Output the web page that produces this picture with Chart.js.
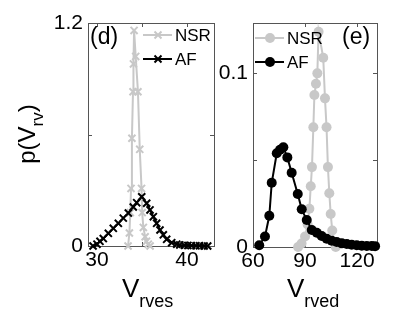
<!DOCTYPE html>
<html>
<head>
<meta charset="utf-8">
<script src="https://cdn.jsdelivr.net/npm/chart.js@4/dist/chart.umd.min.js"></script>
<style>
  body { margin: 0; background: #fff; }
  #wrap { position: relative; width: 415px; height: 313px; overflow: hidden; }
  canvas { position: absolute; left: 0; top: 0; }
</style>
</head>
<body>
<div id="wrap">
  <canvas id="ves" width="415" height="313"></canvas>
  <canvas id="ved" width="415" height="313"></canvas>
</div>
<script>
// panel (d): end-systolic volume
const nsrVesX = [33.45, 33.6, 33.7, 33.78, 33.88, 34.0, 34.05, 34.12, 34.3, 34.55, 34.75, 34.95, 35.02, 35.15, 35.35, 35.5, 35.7, 35.9]
const nsrVesP = [0.0, 0.07, 0.18, 0.31, 0.58, 0.83, 0.98, 1.16, 1.02, 0.83, 0.52, 0.31, 0.18, 0.1, 0.05, 0.025, 0.01, 0.0]
const afVesX = [29.56, 30.0, 30.33, 30.7, 31.26, 31.81, 32.37, 32.92, 33.48, 34.03, 34.41, 34.97, 35.52, 35.89, 36.26, 36.63, 37.0, 37.37, 37.74, 38.3, 38.86, 39.2, 39.7, 40.1, 40.5, 41.0, 41.4, 41.9, 42.3]
const afVesP = [0.0, 0.01, 0.025, 0.04, 0.068, 0.095, 0.122, 0.15, 0.177, 0.21, 0.233, 0.265, 0.23, 0.194, 0.158, 0.122, 0.086, 0.06, 0.036, 0.018, 0.01, 0.006, 0.004, 0.003, 0.002, 0.001, 0.001, 0.0, 0.0]

// panel (e): end-diastolic volume
const nsrVedX = [86, 88, 90, 91.5, 92.5, 93.3, 94, 94.8, 95.4, 96.3, 97.1, 97.8, 100.5, 101.5, 102.4, 103.2, 104, 104.8, 105.7, 106.8, 107.7]
const nsrVedP = [0.0, 0.002, 0.006, 0.013, 0.022, 0.035, 0.046, 0.069, 0.0875, 0.094, 0.1, 0.124, 0.109, 0.0856, 0.069, 0.046, 0.031, 0.019, 0.0095, 0.003, 0.0]
const afVedX = [63.6, 66.9, 69.4, 70.8, 73.7, 75.6, 77.5, 79.8, 82.3, 85.8, 88.1, 91.0, 93.9, 96.8, 99.6, 102.5, 105.4, 108.3, 111.2, 114.1, 116.9, 119.8, 122.7, 125.6, 128.5, 130.4]
const afVedP = [0.001, 0.006, 0.018, 0.037, 0.054, 0.056, 0.0574, 0.0516, 0.0428, 0.0305, 0.0217, 0.0155, 0.0098, 0.0082, 0.0063, 0.0048, 0.0036, 0.0029, 0.0021, 0.0017, 0.0013, 0.001, 0.0007, 0.0006, 0.0006, 0.0005]

const vesTicks = [30, 35, 40]
const vesTickLabels = ['30', '', '40']
const vesPTicks = [0, 0.6, 1.2]
const vesPTickLabels = ['0', '', '1.2']
const vedTicks = [60, 90, 120]
const vedTickLabels = ['60', '90', '120']
const vedPTicks = [0, 0.05, 0.1]
const vedPTickLabels = ['0', '', '0.1']

const FONT = '"Liberation Sans", Arial, sans-serif'
const GREY = '#c8c8c8'

function points(xs, ys) {
  return xs.map((x, i) => ({ x: x, y: ys[i] }))
}

// box round the axes plus inward ticks on all four sides
const frame = {
  id: 'frame',
  beforeDatasetsDraw(chart) {
    const { ctx, chartArea: a, scales } = chart
    ctx.save()
    ctx.strokeStyle = '#555'
    ctx.lineWidth = 1
    ctx.strokeRect(a.left + 0.5, a.top + 0.5, a.right - a.left, a.bottom - a.top)
    ctx.beginPath()
    for (let t of scales.x.ticks) {
      let px = Math.round(scales.x.getPixelForValue(t.value)) + 0.5
      ctx.moveTo(px, a.bottom); ctx.lineTo(px, a.bottom - 4)
      ctx.moveTo(px, a.top); ctx.lineTo(px, a.top + 4)
    }
    for (let t of scales.y.ticks) {
      let py = Math.round(scales.y.getPixelForValue(t.value)) + 0.5
      ctx.moveTo(a.left, py); ctx.lineTo(a.left + 4, py)
      ctx.moveTo(a.right, py); ctx.lineTo(a.right - 4, py)
    }
    ctx.stroke()
    ctx.restore()
  },
}

function drawMarker(ctx, style, x, y) {
  ctx.beginPath()
  if (style === 'circle') {
    ctx.arc(x, y, 5, 0, Math.PI * 2)
    ctx.fill()
  } else {
    ctx.moveTo(x - 3.5, y - 3.5); ctx.lineTo(x + 3.5, y + 3.5)
    ctx.moveTo(x + 3.5, y - 3.5); ctx.lineTo(x - 3.5, y + 3.5)
    ctx.stroke()
  }
}

function decor(cfg) {
  return {
    id: 'decor',
    afterDraw(chart) {
      const ctx = chart.ctx
      ctx.save()
      ctx.fillStyle = '#000'
      ctx.textBaseline = 'alphabetic'
      ctx.textAlign = 'left'

      // panel tag
      ctx.font = '23px ' + FONT
      ctx.fillText(cfg.tag, cfg.tagX, 44)

      // legend, NSR first
      const order = [1, 0]
      order.forEach((di, k) => {
        const ds = chart.data.datasets[di]
        const y = cfg.legendY + k * 24
        ctx.strokeStyle = ds.borderColor
        ctx.fillStyle = ds.borderColor
        ctx.lineWidth = 2
        ctx.beginPath()
        ctx.moveTo(cfg.legendX, y); ctx.lineTo(cfg.legendX + 29, y)
        ctx.stroke()
        drawMarker(ctx, ds.pointStyle, cfg.legendX + 15, y)
        ctx.fillStyle = '#000'
        ctx.font = '17px ' + FONT
        ctx.textBaseline = 'middle'
        ctx.fillText(ds.label, cfg.legendX + 32, y + 1)
        ctx.textBaseline = 'alphabetic'
      })

      // x title with subscript
      ctx.fillStyle = '#000'
      ctx.font = '26px ' + FONT
      ctx.fillText('V', cfg.titleX, 297)
      let w = ctx.measureText('V').width
      ctx.font = '18px ' + FONT
      ctx.fillText(cfg.sub, cfg.titleX + w, 307)

      // y title, only on the left panel
      if (cfg.yTitle) {
        ctx.translate(35, 134)
        ctx.rotate(-Math.PI / 2)
        ctx.font = '24px ' + FONT
        let a = ctx.measureText('p(V').width
        ctx.font = '17px ' + FONT
        let b = ctx.measureText('rv').width
        ctx.font = '24px ' + FONT
        let c = ctx.measureText(')').width
        let x0 = -(a + b + c) / 2
        ctx.fillText('p(V', x0, 0)
        ctx.font = '17px ' + FONT
        ctx.fillText('rv', x0 + a, 8)
        ctx.font = '24px ' + FONT
        ctx.fillText(')', x0 + a + b, 0)
      }
      ctx.restore()
    },
  }
}

function makeChart(id, opts) {
  const radius = opts.marker === 'circle' ? 5 : 5
  const bw = opts.marker === 'circle' ? 0 : 2
  return new Chart(document.getElementById(id), {
    type: 'line',
    data: {
      datasets: [
        {
          label: 'AF',
          data: points(opts.afX, opts.afP),
          borderColor: '#000',
          backgroundColor: '#000',
          pointStyle: opts.marker,
          pointRadius: radius,
          pointBorderWidth: bw,
          borderWidth: 2,
          clip: false,
        },
        {
          label: 'NSR',
          data: points(opts.nsrX, opts.nsrP),
          borderColor: GREY,
          backgroundColor: GREY,
          pointStyle: opts.marker,
          pointRadius: radius,
          pointBorderWidth: bw,
          borderWidth: 2,
          clip: false,
        },
      ],
    },
    options: {
      responsive: false,
      animation: false,
      devicePixelRatio: 1,
      layout: { padding: opts.padding },
      plugins: { legend: { display: false }, tooltip: { enabled: false } },
      scales: {
        x: {
          type: 'linear',
          min: opts.xMin,
          max: opts.xMax,
          afterBuildTicks: (s) => { s.ticks = opts.xTicks.map((v) => ({ value: v })) },
          afterFit: (s) => { s.height = opts.xHeight },
          ticks: {
            callback: (v) => opts.xLabels[opts.xTicks.indexOf(v)],
            font: { family: FONT, size: 21 },
            color: '#000',
            padding: 2,
            maxRotation: 0,
            autoSkip: false,
          },
          grid: { display: false, drawTicks: false },
          border: { display: false },
        },
        y: {
          min: 0,
          max: opts.yMax,
          afterBuildTicks: (s) => { s.ticks = opts.yTicks.map((v) => ({ value: v })) },
          afterFit: (s) => { s.width = opts.yWidth },
          ticks: {
            callback: (v) => opts.yLabels[opts.yTicks.indexOf(v)],
            font: { family: FONT, size: 21 },
            color: '#000',
            padding: 5,
            autoSkip: false,
          },
          grid: { display: false, drawTicks: false },
          border: { display: false },
        },
      },
    },
    plugins: [frame, decor(opts.decor)],
  })
}

makeChart('ves', {
  afX: afVesX, afP: afVesP, nsrX: nsrVesX, nsrP: nsrVesP,
  marker: 'crossRot',
  xMin: 29, xMax: 43, xTicks: vesTicks, xLabels: vesTickLabels,
  yMax: 1.2, yTicks: vesPTicks, yLabels: vesPTickLabels,
  padding: { left: 0, top: 23, right: 201, bottom: 0 },
  yWidth: 88, xHeight: 67,
  decor: { tag: '(d)', tagX: 90, legendX: 143, legendY: 35, titleX: 122, sub: 'rves', yTitle: true },
})

makeChart('ved', {
  afX: afVedX, afP: afVedP, nsrX: nsrVedX, nsrP: nsrVedP,
  marker: 'circle',
  xMin: 60, xMax: 131.5, xTicks: vedTicks, xLabels: vedTickLabels,
  yMax: 0.129, yTicks: vedPTicks, yLabels: vedPTickLabels,
  padding: { left: 0, top: 23, right: 38, bottom: 0 },
  yWidth: 253, xHeight: 66,
  decor: { tag: '(e)', tagX: 342, legendX: 255, legendY: 38, titleX: 287, sub: 'rved', yTitle: false },
})
</script>
</body>
</html>
